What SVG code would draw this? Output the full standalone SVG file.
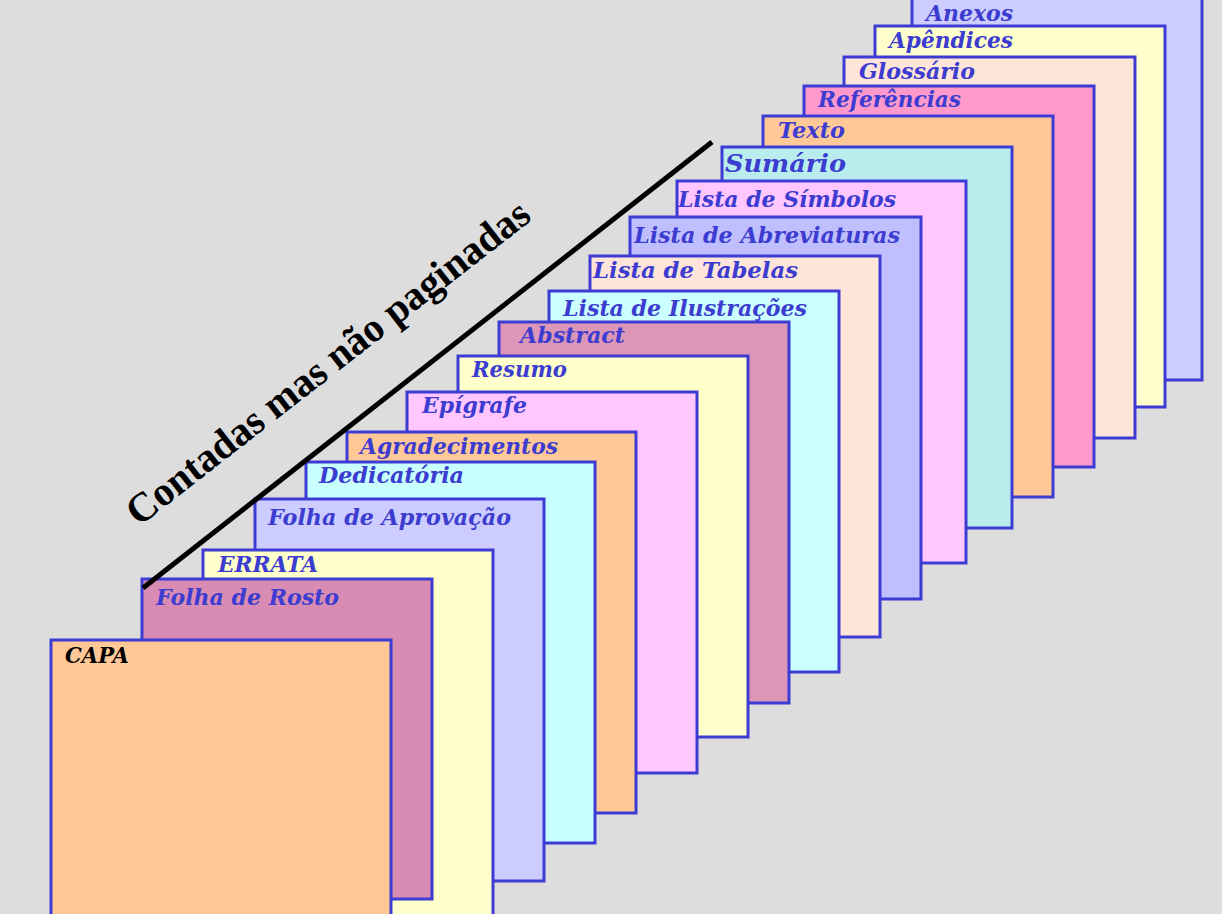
<svg xmlns="http://www.w3.org/2000/svg" width="1222" height="914" viewBox="0 0 1222 914">
<style>
.pg{stroke:#3c3cd4;stroke-width:3}
.lb{font-family:"DejaVu Serif","Liberation Serif",serif;font-weight:bold;font-style:italic;font-size:22px;fill:#3c3cd0}
.title{font-family:"Liberation Serif","Times New Roman",serif;font-weight:bold;font-size:41px;fill:#000}
</style>
<rect x="0" y="0" width="1222" height="914" fill="#dddddd"/>
<g id="anexos"><rect class="pg" x="912" y="-3" width="290" height="383" fill="#ccccff"/><text class="lb" x="926" y="21" textLength="87" lengthAdjust="spacingAndGlyphs">Anexos</text></g>
<g id="apendices"><rect class="pg" x="875" y="26" width="290" height="381" fill="#ffffcc"/><text class="lb" x="889" y="48" textLength="124" lengthAdjust="spacingAndGlyphs">Apêndices</text></g>
<g id="glossario"><rect class="pg" x="844" y="57" width="291" height="381" fill="#ffe5d9"/><text class="lb" x="859" y="79" textLength="116" lengthAdjust="spacingAndGlyphs">Glossário</text></g>
<g id="referencias"><rect class="pg" x="804" y="86" width="290" height="381" fill="#ff99cc"/><text class="lb" x="818" y="107" textLength="143" lengthAdjust="spacingAndGlyphs">Referências</text></g>
<g id="texto"><rect class="pg" x="763" y="116" width="290" height="381" fill="#ffc896"/><text class="lb" x="778" y="138" textLength="67" lengthAdjust="spacingAndGlyphs">Texto</text></g>
<g id="sumario"><rect class="pg" x="722" y="147" width="290" height="381" fill="#b9eded"/><text class="lb" x="725" y="172" style="font-size:25px" textLength="121" lengthAdjust="spacingAndGlyphs">Sumário</text></g>
<g id="simbolos"><rect class="pg" x="677" y="181" width="289" height="382" fill="#ffc6ff"/><text class="lb" x="678" y="207" textLength="218" lengthAdjust="spacingAndGlyphs">Lista de Símbolos</text></g>
<g id="abreviaturas"><rect class="pg" x="630" y="217" width="291" height="382" fill="#bfbfff"/><text class="lb" x="634" y="243" textLength="266" lengthAdjust="spacingAndGlyphs">Lista de Abreviaturas</text></g>
<g id="tabelas"><rect class="pg" x="590" y="256" width="290" height="381" fill="#ffe5d9"/><text class="lb" x="593" y="278" textLength="205" lengthAdjust="spacingAndGlyphs">Lista de Tabelas</text></g>
<g id="ilustracoes"><rect class="pg" x="549" y="291" width="290" height="381" fill="#ccffff"/><text class="lb" x="563" y="316" textLength="244" lengthAdjust="spacingAndGlyphs">Lista de Ilustrações</text></g>
<g id="abstract"><rect class="pg" x="499" y="322" width="290" height="381" fill="#dc96b8"/><text class="lb" x="520" y="343" textLength="105" lengthAdjust="spacingAndGlyphs">Abstract</text></g>
<g id="resumo"><rect class="pg" x="458" y="356" width="290" height="381" fill="#ffffcc"/><text class="lb" x="472" y="377" textLength="95" lengthAdjust="spacingAndGlyphs">Resumo</text></g>
<g id="epigrafe"><rect class="pg" x="407" y="392" width="290" height="381" fill="#ffc6ff"/><text class="lb" x="422" y="413" textLength="105" lengthAdjust="spacingAndGlyphs">Epígrafe</text></g>
<g id="agradecimentos"><rect class="pg" x="347" y="432" width="289" height="381" fill="#ffc896"/><text class="lb" x="360" y="454" textLength="198" lengthAdjust="spacingAndGlyphs">Agradecimentos</text></g>
<g id="dedicatoria"><rect class="pg" x="306" y="462" width="289" height="381" fill="#c8ffff"/><text class="lb" x="319" y="483" textLength="145" lengthAdjust="spacingAndGlyphs">Dedicatória</text></g>
<g id="aprovacao"><rect class="pg" x="255" y="499" width="289" height="382" fill="#ccccff"/><text class="lb" x="268" y="525" textLength="243" lengthAdjust="spacingAndGlyphs">Folha de Aprovação</text></g>
<g id="errata"><rect class="pg" x="203" y="550" width="290" height="381" fill="#ffffcc"/><text class="lb" x="218" y="572" textLength="100" lengthAdjust="spacingAndGlyphs">ERRATA</text></g>
<g id="folha-rosto"><rect class="pg" x="142" y="579" width="290" height="320" fill="#d98cb3"/><text class="lb" x="156" y="605" textLength="183" lengthAdjust="spacingAndGlyphs">Folha de Rosto</text></g>
<g id="connectors"><line x1="143" y1="588" x2="712" y2="142" stroke="#000" stroke-width="5"/></g>
<g id="capa"><rect class="pg" x="51" y="640" width="340" height="300" fill="#ffc896"/><text class="lb" x="65" y="663" style="fill:#000" textLength="64" lengthAdjust="spacingAndGlyphs">CAPA</text></g>
<g id="title"><text class="title" x="336" y="373" text-anchor="middle" transform="rotate(-38 336 373)" textLength="500" lengthAdjust="spacingAndGlyphs">Contadas mas não paginadas</text></g>
</svg>
